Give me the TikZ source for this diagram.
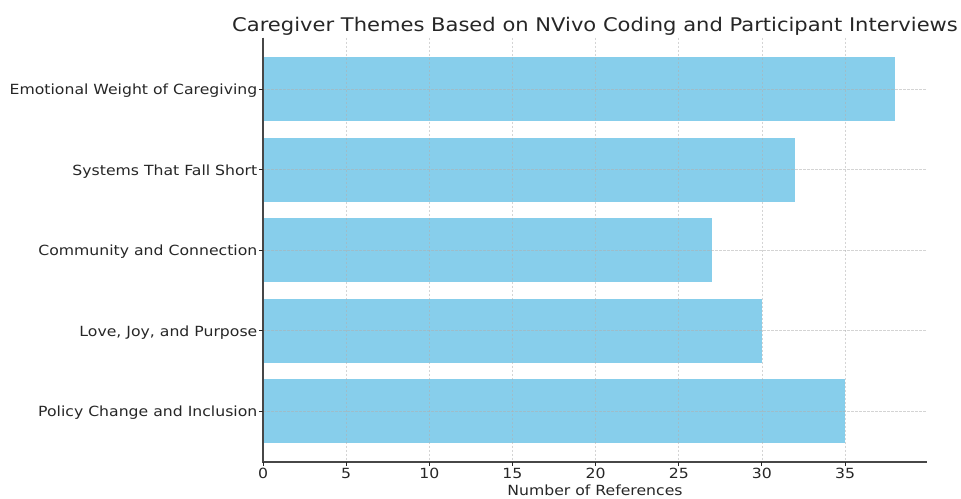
\documentclass[tikz,border=0pt]{standalone}
\usepackage{fontspec}
\setmainfont{DejaVu Sans}[FakeStretch=1.12]
\definecolor{barblue}{HTML}{87CEEB}
\definecolor{txtgray}{HTML}{262626}
\definecolor{gridgray}{HTML}{B0B0B0}
\begin{document}
\begin{tikzpicture}[x=1pt,y=-1pt]
  \tikzset{ bar/.style={fill=barblue,draw=none},
    gridline/.style={gridgray,line width=0.6pt,dash pattern=on 2.5pt off 1.5pt,opacity=0.55},
    spine/.style={txtgray!85,line width=1.2pt},
    tick/.style={txtgray,line width=0.9pt},
    lbl/.style={text=txtgray,font=\fontsize{14}{15}\selectfont,inner sep=0pt},
  }
  \useasboundingbox (0,0) rectangle (961,498);
  \def\xu{16.63}

  % bars
  \foreach \val/\yc in {38/89, 32/169.5, 27/250, 30/330.5, 35/411}
    \fill[bar] (263,\yc-32) rectangle ({263+\val*\xu},\yc+32);

  % grid
  \foreach \v in {0,5,...,35}
    \draw[gridline] ({263+\v*\xu},37.5) -- ({263+\v*\xu},462);
  \foreach \yc in {89, 169.5, 250, 330.5, 411}
    \draw[gridline] (263,\yc) -- (926.5,\yc);

  % axes
  \coordinate (top) at (263,37.5);
  \coordinate (origin) at (263,462);
  \coordinate (right) at (926.5,462);
  \draw[spine] (top) -- (origin) -- (right);

  % y labels
  \foreach \name/\txt/\yc in {emo/Emotional Weight of Caregiving/89,
      sys/Systems That Fall Short/169.5,
      com/Community and Connection/250,
      love/{Love, Joy, and Purpose}/330.5,
      pol/Policy Change and Inclusion/411} {
    \draw[tick] (259,\yc) -- (263,\yc);
    \node[lbl,anchor=base east] (\name) at (257.5,\yc+5.8) {\txt};
  }

  % x ticks
  \foreach \v in {0,5,...,35} {
    \draw[tick] ({263+\v*\xu},462) -- ({263+\v*\xu},466);
    \node[lbl,anchor=base] (x\v) at ({263+\v*\xu},478.5) {\v};
  }

  \node[lbl,anchor=base] (xlabel) at (595,495) {Number of References};
  \node[text=txtgray,font=\fontsize{18.8}{20}\selectfont,inner sep=0pt,anchor=base] (title) at (595,31)
    {Caregiver Themes Based on NVivo Coding and Participant Interviews};
\end{tikzpicture}
\end{document}
